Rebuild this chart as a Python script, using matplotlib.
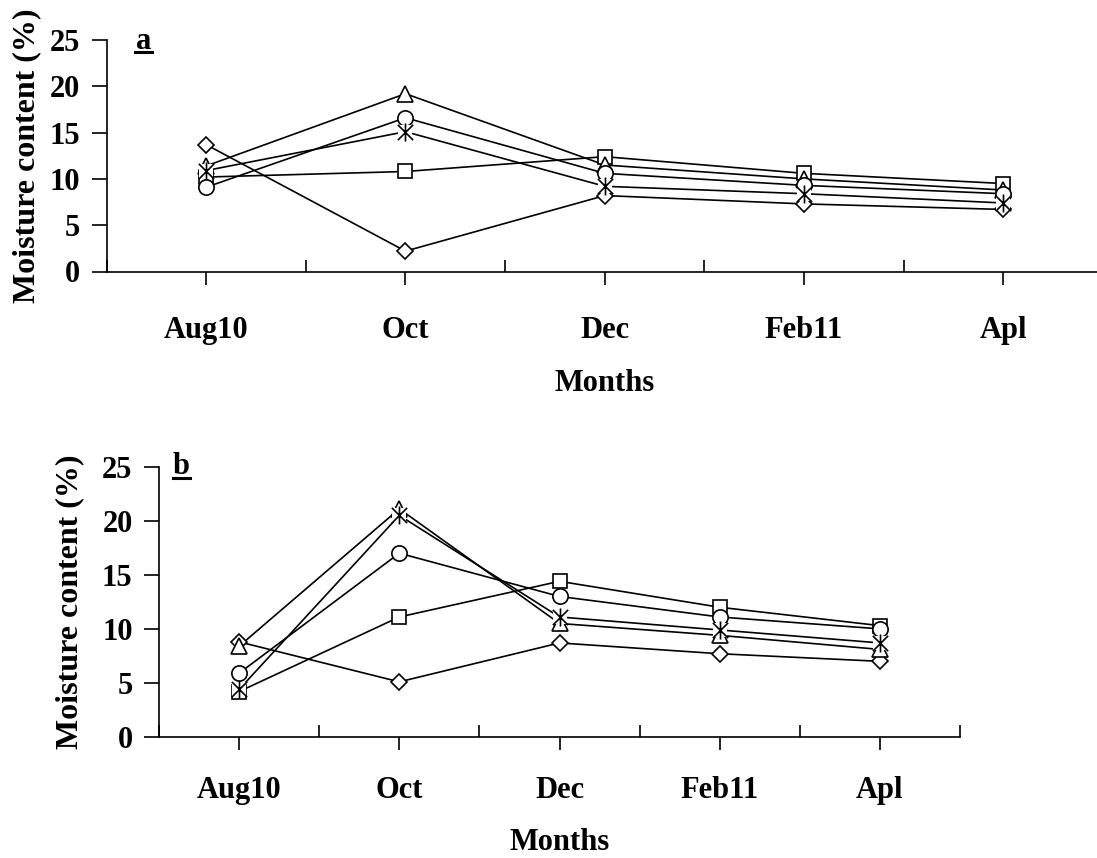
import matplotlib
matplotlib.use("Agg")
import matplotlib.pyplot as plt
from matplotlib.path import Path
from matplotlib.lines import Line2D

plt.rcParams["font.family"] = ["Liberation Serif", "DejaVu Serif"]
plt.rcParams["font.weight"] = "bold"

months = ["Aug10", "Oct", "Dec", "Feb11", "Apl"]

# panel a
a_diamond = [13.7, 2.2, 8.2, 7.3, 6.7]
a_square = [10.2, 10.8, 12.4, 10.6, 9.5]
a_triangle = [11.4, 19.2, 11.5, 10.0, 8.8]
a_circle = [9.1, 16.6, 10.6, 9.3, 8.4]
a_star = [10.9, 15.1, 9.2, 8.4, 7.4]

# panel b
b_diamond = [8.8, 5.1, 8.7, 7.7, 7.0]
b_square = [4.2, 11.1, 14.4, 12.0, 10.3]
b_triangle = [8.4, 21.1, 10.5, 9.4, 8.1]
b_circle = [5.9, 17.0, 13.0, 11.1, 10.0]
b_star = [4.4, 20.5, 11.1, 9.9, 8.7]

STAR = Path(
    [(0, -1), (0, 1), (-0.85, -0.85), (0.85, 0.85), (-0.85, 0.85), (0.85, -0.85)],
    [Path.MOVETO, Path.LINETO, Path.MOVETO, Path.LINETO, Path.MOVETO, Path.LINETO],
)

FS = 22
LW = 1.2


def draw_panel(ax, series, letter, ul, ylab_x, xlab_y, xpad):
    x = range(len(months))
    for vals in series:
        ax.plot(x, vals, "-", color="black", lw=LW, zorder=2)
    d, s, t, c, st = series
    ax.plot(x, d, "D", ms=8.5, mfc="white", mec="black", mew=LW, ls="none", zorder=3)
    ax.plot(x, s, "s", ms=10.5, mfc="white", mec="black", mew=LW, ls="none", zorder=4)
    ax.plot(x, t, "^", ms=11, mfc="white", mec="black", mew=LW, ls="none", zorder=5)
    ax.plot(x, c, "o", ms=11, mfc="white", mec="black", mew=LW, ls="none", zorder=6)
    ax.plot(x, st, "s", ms=10, mfc="white", mec="white", mew=0, ls="none", zorder=7)
    ax.plot(x, st, marker=STAR, ms=13, mfc="none", mec="black", mew=LW,
            ls="none", zorder=8)

    ax.set_xlim(-0.5, 4.5)
    ax.set_ylim(0, 25)
    ax.set_yticks([0, 5, 10, 15, 20, 25])
    ax.set_xticks(list(x))
    ax.set_xticklabels(months)
    ax.set_xticks([-0.5, 0.5, 1.5, 2.5, 3.5, 4.5], minor=True)
    ax.tick_params(axis="x", which="major", direction="out", length=9,
                   width=LW, labelsize=FS, pad=xpad)
    ax.tick_params(axis="x", which="minor", direction="in", length=9, width=LW)
    ax.tick_params(axis="y", direction="out", length=11, width=LW,
                   labelsize=FS, pad=8)
    for sp in ("top", "right"):
        ax.spines[sp].set_visible(False)
    for sp in ("left", "bottom"):
        ax.spines[sp].set_linewidth(LW)
    for lab in ax.get_xticklabels() + ax.get_yticklabels():
        lab.set_fontweight("bold")

    ax.set_ylabel("Moisture content (%)", fontsize=FS + 1, fontweight="bold",
                  va="center")
    ax.yaxis.set_label_coords(ylab_x, 0.5)
    ax.set_xlabel("Months", fontsize=FS, fontweight="bold", va="center")
    ax.xaxis.set_label_coords(0.5, xlab_y)

    ax.text((ul[0] + ul[1]) / 2, ul[3], letter, transform=ax.transAxes,
            ha="center", va="center", fontsize=FS, fontweight="bold")
    ax.add_line(Line2D([ul[0], ul[1]], [ul[2], ul[2]], transform=ax.transAxes,
                       color="black", lw=2.2, clip_on=False))


fig = plt.figure(figsize=(10.97, 8.58), dpi=100)
W, H = 1097.0, 858.0
ax_a = fig.add_axes([106.5 / W, (H - 271.5) / H, 996.5 / W, 231.5 / H])
ax_b = fig.add_axes([159 / W, (H - 737) / H, 801 / W, 270.3 / H])

draw_panel(ax_a, [a_diamond, a_square, a_triangle, a_circle, a_star],
           "a", (0.0286, 0.0457, 0.950, 0.995), -0.0798, -0.482, 23)
draw_panel(ax_b, [b_diamond, b_square, b_triangle, b_circle, b_star],
           "b", (0.0175, 0.0387, 0.96, 1.0), -0.111, -0.392, 19)

fig.savefig("out.png", dpi=100)
